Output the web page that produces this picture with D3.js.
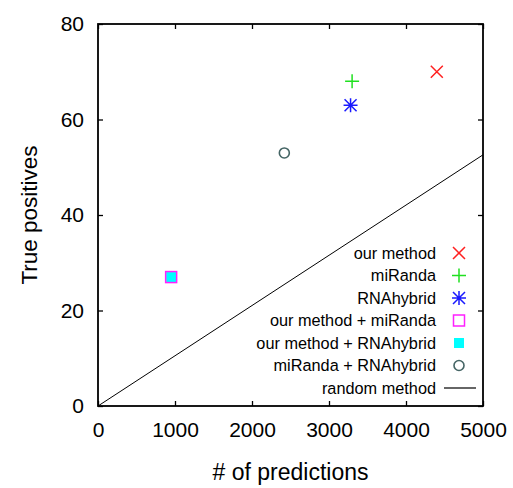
<!DOCTYPE html>
<html>
<head>
<meta charset="utf-8">
<script src="https://cdn.jsdelivr.net/npm/d3@7"></script>
<style>
  body { margin: 0; background: #fff; }
  svg text { font-family: "Liberation Sans", Arial, sans-serif; fill: #000; }
</style>
</head>
<body>
<div id="chart"></div>
<script>
// methods shown in the plot (legend order)
const methods = ["our method", "miRanda", "RNAhybrid", "our method + miRanda", "our method + RNAhybrid", "miRanda + RNAhybrid"];
// number of predictions per method
const predictions = [4400, 3300, 3280, 950, 950, 2420];
// true positives per method
const truePositives = [70, 68, 63, 27, 27, 53];
// marker symbol and colour per method
const symbols = ["cross", "plus", "star", "square", "filled", "circle"];
const colors = ["#ff2020", "#20e020", "#1a1aff", "#ff20ff", "#00ffff", "#456565"];
// the random method line
const randomX = [0, 5000];
const randomY = [0, 52.6];
// ticks
const xTicks = [0, 1000, 2000, 3000, 4000, 5000];
const yTicks = [0, 20, 40, 60, 80];

const width = 513;
const height = 488;
const margin = { top: 24, right: 30, bottom: 82, left: 98 };

const svg = d3.select("#chart")
  .append("svg")
  .attr("width", width)
  .attr("height", height);

const x = d3.scaleLinear()
  .domain([0, 5000])
  .range([margin.left, width - margin.right]);

const y = d3.scaleLinear()
  .domain([0, 80])
  .range([height - margin.bottom, margin.top]);

const x0 = x.range()[0], x1 = x.range()[1];
const y0 = y.range()[0], y1 = y.range()[1];

// inward ticks on all four sides (gnuplot style, mirrored)
svg.append("g")
  .attr("transform", `translate(0,${y0})`)
  .call(d3.axisBottom(x).tickValues(xTicks).tickSize(-5).tickPadding(16).tickFormat(d3.format("d")))
  .call(g => g.select(".domain").remove())
  .call(g => g.selectAll("text").attr("font-size", "21px"));

svg.append("g")
  .attr("transform", `translate(0,${y1})`)
  .call(d3.axisTop(x).tickValues(xTicks).tickSize(-5).tickFormat(""))
  .call(g => g.select(".domain").remove());

svg.append("g")
  .attr("transform", `translate(${x0},0)`)
  .call(d3.axisLeft(y).tickValues(yTicks).tickSize(-5).tickPadding(14))
  .call(g => g.select(".domain").remove())
  .call(g => g.selectAll("text").attr("font-size", "21px"));

svg.append("g")
  .attr("transform", `translate(${x1},0)`)
  .call(d3.axisRight(y).tickValues(yTicks).tickSize(-5).tickFormat(""))
  .call(g => g.select(".domain").remove());

svg.selectAll(".tick line").attr("stroke", "#000").attr("stroke-width", 1.3);

// random method line
svg.append("line")
  .attr("x1", x(randomX[0])).attr("y1", y(randomY[0]))
  .attr("x2", x(randomX[1])).attr("y2", y(randomY[1]))
  .attr("stroke", "#000")
  .attr("stroke-width", 1);

// draws one marker at cx, cy
function marker(g, kind, color, cx, cy) {
  const s = 6;
  if (kind === "cross") {
    g.append("path")
      .attr("d", `M${cx - s},${cy - s}L${cx + s},${cy + s}M${cx - s},${cy + s}L${cx + s},${cy - s}`)
      .attr("stroke", color).attr("stroke-width", 1.5).attr("fill", "none");
  } else if (kind === "plus") {
    g.append("path")
      .attr("d", `M${cx - s - 1},${cy}L${cx + s + 1},${cy}M${cx},${cy - s - 1}L${cx},${cy + s + 1}`)
      .attr("stroke", color).attr("stroke-width", 1.5).attr("fill", "none");
  } else if (kind === "star") {
    g.append("path")
      .attr("d", `M${cx - s - 1},${cy}L${cx + s + 1},${cy}M${cx},${cy - s - 1}L${cx},${cy + s + 1}` +
        `M${cx - s},${cy - s}L${cx + s},${cy + s}M${cx - s},${cy + s}L${cx + s},${cy - s}`)
      .attr("stroke", color).attr("stroke-width", 1.5).attr("fill", "none");
  } else if (kind === "square") {
    g.append("rect")
      .attr("x", cx - s + 0.5).attr("y", cy - s + 0.5)
      .attr("width", 2 * s - 1).attr("height", 2 * s - 1)
      .attr("stroke", color).attr("stroke-width", 1.5).attr("fill", "none");
  } else if (kind === "filled") {
    g.append("rect")
      .attr("x", cx - s + 1).attr("y", cy - s + 1)
      .attr("width", 2 * s - 2).attr("height", 2 * s - 2)
      .attr("fill", color);
  } else if (kind === "circle") {
    g.append("circle")
      .attr("cx", cx).attr("cy", cy).attr("r", 5)
      .attr("stroke", color).attr("stroke-width", 1.6).attr("fill", "none");
  }
}

// data points (filled square under the open one)
const pointsG = svg.append("g");
const drawOrder = [4, 3, 0, 1, 2, 5];
drawOrder.forEach(i => marker(pointsG, symbols[i], colors[i], x(predictions[i]), y(truePositives[i])));

// legend, right aligned inside the plot
const legend = svg.append("g");
const legendTextX = 436;
const legendSymX = 459;
const legendTop = 253;
const legendStep = 22.5;
methods.forEach((m, i) => {
  const ly = legendTop + i * legendStep;
  legend.append("text")
    .attr("x", legendTextX).attr("y", ly)
    .attr("dy", "0.35em")
    .attr("text-anchor", "end")
    .attr("font-size", "16.3px")
    .text(m);
  marker(legend, symbols[i], colors[i], legendSymX, ly);
});
const lastY = legendTop + methods.length * legendStep;
legend.append("text")
  .attr("x", legendTextX).attr("y", lastY)
  .attr("dy", "0.35em")
  .attr("text-anchor", "end")
  .attr("font-size", "16.3px")
  .text("random method");
legend.append("line")
  .attr("x1", 444).attr("x2", 476)
  .attr("y1", lastY).attr("y2", lastY)
  .attr("stroke", "#000").attr("stroke-width", 1.2);

// plot frame
svg.append("rect")
  .attr("x", x0).attr("y", y1)
  .attr("width", x1 - x0).attr("height", y0 - y1)
  .attr("fill", "none")
  .attr("stroke", "#000")
  .attr("stroke-width", 1.8);

// axis titles
svg.append("text")
  .attr("x", (x0 + x1) / 2)
  .attr("y", 480)
  .attr("text-anchor", "middle")
  .attr("font-size", "23px")
  .text("# of predictions");

svg.append("text")
  .attr("transform", `translate(37,${(y0 + y1) / 2}) rotate(-90)`)
  .attr("text-anchor", "middle")
  .attr("font-size", "22.5px")
  .text("True positives");
</script>
</body>
</html>
